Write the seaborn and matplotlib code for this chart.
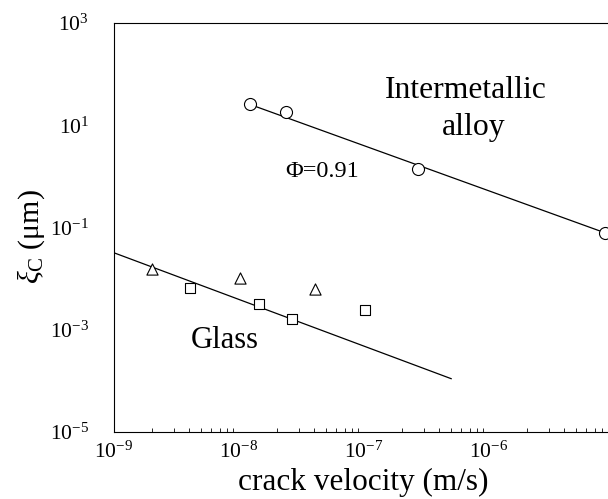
import numpy as np
import pandas as pd
import matplotlib
matplotlib.use("Agg")
import matplotlib.pyplot as plt
import matplotlib.ticker as mticker
import seaborn as sns

# ---- data ----
metal_v = [1.22e-8, 2.37e-8, 2.72e-7, 8.5e-6]
metal_xi = [25.6, 18.4, 1.39, 0.079]

glass_sq_v = [4.06e-9, 1.44e-8, 2.64e-8, 1.02e-7]
glass_sq_xi = [6.7e-3, 3.17e-3, 1.59e-3, 2.42e-3]

glass_tri_v = [2.02e-9, 1.02e-8, 4.06e-8]
glass_tri_xi = [0.0151, 0.0101, 6.15e-3]

metal_fit_v = [1.22e-8, 1.0e-5]
metal_fit_xi = [25.6, 0.068]

glass_fit_v = [1.0e-9, 5.0e-7]
glass_fit_xi = [0.032, 1.1e-4]

x_ticks = [1e-9, 1e-8, 1e-7, 1e-6]
y_ticks = [1e-5, 1e-3, 1e-1, 1e1, 1e3]

sns.set_theme(style="white")
plt.rcParams["font.family"] = ["Liberation Serif", "DejaVu Serif"]
plt.rcParams["mathtext.fontset"] = "custom"
plt.rcParams["mathtext.rm"] = "Liberation Serif"
plt.rcParams["mathtext.it"] = "Liberation Serif:italic"
plt.rcParams["mathtext.bf"] = "Liberation Serif:bold"
plt.rcParams["text.color"] = "black"
plt.rcParams["axes.labelcolor"] = "black"

W, H = 608, 499
fig = plt.figure(figsize=(W / 100, H / 100), dpi=100)
left, right, top, bottom = 114, 614, 23, 432
ax = fig.add_axes([left / W, (H - bottom) / H, (right - left) / W, (bottom - top) / H])

ax.set_xscale("log")
ax.set_yscale("log")

df_metal = pd.DataFrame({"v": metal_v, "xi": metal_xi})
df_sq = pd.DataFrame({"v": glass_sq_v, "xi": glass_sq_xi})
df_tri = pd.DataFrame({"v": glass_tri_v, "xi": glass_tri_xi})
df_mfit = pd.DataFrame({"v": metal_fit_v, "xi": metal_fit_xi})
df_gfit = pd.DataFrame({"v": glass_fit_v, "xi": glass_fit_xi})

sns.lineplot(data=df_mfit, x="v", y="xi", ax=ax, color="black", lw=0.9, zorder=2)
sns.lineplot(data=df_gfit, x="v", y="xi", ax=ax, color="black", lw=0.9, zorder=2)

sns.scatterplot(data=df_metal, x="v", y="xi", ax=ax, marker="o", s=75,
                facecolor="white", edgecolor="black", linewidth=0.8, zorder=3, clip_on=False)
sns.scatterplot(data=df_sq, x="v", y="xi", ax=ax, marker="s", s=45,
                facecolor="white", edgecolor="black", linewidth=0.8, zorder=3)
sns.scatterplot(data=df_tri, x="v", y="xi", ax=ax, marker="^", s=65,
                facecolor="white", edgecolor="black", linewidth=0.8, zorder=3)

ax.set_xlim(1e-9, 1e-5)
ax.set_ylim(1e-5, 1e3)

ax.xaxis.set_major_locator(mticker.FixedLocator(x_ticks))
ax.xaxis.set_minor_locator(mticker.LogLocator(base=10, subs=np.arange(2, 10), numticks=20))
ax.xaxis.set_minor_formatter(mticker.NullFormatter())
ax.xaxis.set_major_formatter(mticker.LogFormatterMathtext())
ax.yaxis.set_major_locator(mticker.FixedLocator(y_ticks))
ax.yaxis.set_minor_locator(mticker.NullLocator())
ax.yaxis.set_major_formatter(mticker.LogFormatterMathtext())

ax.tick_params(axis="both", which="major", direction="in", length=6, width=0.8,
               labelsize=15.5, colors="black")
ax.tick_params(axis="x", which="major", pad=7)
ax.tick_params(axis="y", which="major", pad=18)
ax.tick_params(axis="x", which="minor", direction="in", length=3, width=0.7, bottom=True)

for s in ax.spines.values():
    s.set_color("black")
    s.set_linewidth(0.8)

ax.set_xlabel("crack velocity (m/s)", fontsize=22.5, color="black", va="baseline")
ax.xaxis.set_label_coords((363 - 114) / 500, (432 - 490) / 409)
ax.set_ylabel(r"$\xi_{\mathrm{C}}$ (μm)", fontsize=21.5, color="black")
ax.yaxis.set_label_coords(-(114 - 47) / 500, (432 - 237) / 409)

ax.text(6.55e-7, 34, "Intermetallic", fontsize=22.8, ha="center", va="baseline")
ax.text(7.6e-7, 6.4, "alloy", fontsize=22.8, ha="center", va="baseline")
ax.text(4.6e-8, 0.98, "\u03a6=0.91", fontsize=17.5, ha="center", va="baseline")
ax.text(7.66e-9, 4.37e-4, "Glass", fontsize=22, ha="center", va="baseline")

fig.savefig("out.png", dpi=100)
